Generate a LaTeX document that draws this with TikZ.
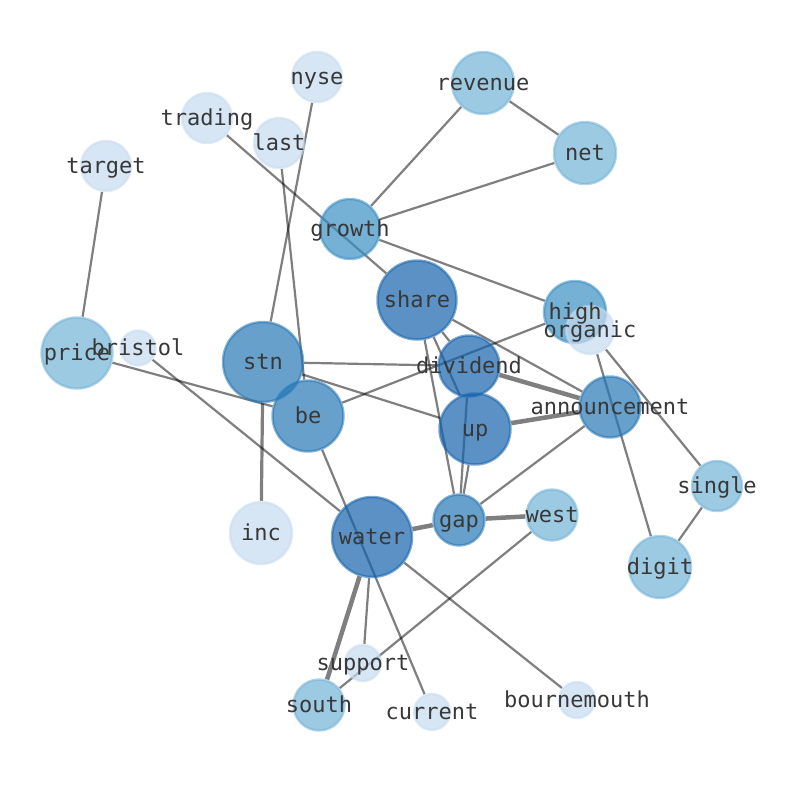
\documentclass[tikz,border=0pt]{standalone}
\usepackage{fontspec}
\setmonofont{DejaVu Sans Mono}
\usetikzlibrary{backgrounds}

\definecolor{b0}{HTML}{C6DBEF}
\definecolor{b1}{HTML}{74B3D7}
\definecolor{b2}{HTML}{3A8EC3}
\definecolor{b3}{HTML}{2677B5}
\definecolor{b4}{HTML}{1563AC}

\begin{document}
\begin{tikzpicture}[x=1pt,y=-1pt,
  word/.style={circle,inner sep=0pt,line width=2.5pt,fill opacity=0.7,draw opacity=0.55},
  w0/.style={word,fill=b0,draw=b0},
  w1/.style={word,fill=b1,draw=b1},
  w2/.style={word,fill=b2,draw=b2},
  w3/.style={word,fill=b3,draw=b3},
  w4/.style={word,fill=b4,draw=b4},
  lbl/.style={font=\ttfamily\fontsize{22}{22}\selectfont,text=black!78,inner sep=0pt,
    text height=15pt,text depth=0pt},
  link/.style={draw=black,draw opacity=0.5,line width=2.2pt},
  heavy/.style={link,line width=4.5pt}]

  \useasboundingbox (0,0) rectangle (794,790);

  \node[w0,minimum size=50pt] (nyse) at (317,77) {};
  \node[w1,minimum size=62pt] (revenue) at (483,83) {};
  \node[w0,minimum size=50pt] (trading) at (207,118) {};
  \node[w0,minimum size=50pt] (last) at (279,143) {};
  \node[w0,minimum size=50pt] (target) at (106,166) {};
  \node[w1,minimum size=62pt] (net) at (585,153) {};
  \node[w2,minimum size=60pt] (growth) at (350,229) {};
  \node[w4,minimum size=79pt] (share) at (417,300) {};
  \node[w2,minimum size=62pt] (high) at (575,312) {};
  \node[w0,minimum size=48pt] (organic) at (590,330) {};
  \node[w1,minimum size=71pt] (price) at (77,353) {};
  \node[w0,minimum size=35pt] (bristol) at (138,348) {};
  \node[w3,minimum size=80pt] (stn) at (263,362) {};
  \node[w4,minimum size=61pt] (dividend) at (469,366) {};
  \node[w3,minimum size=71pt] (be) at (308,416) {};
  \node[w3,minimum size=61pt] (announcement) at (610,407) {};
  \node[w4,minimum size=71pt] (up) at (475,429) {};
  \node[w1,minimum size=50pt] (single) at (717,486) {};
  \node[w0,minimum size=62pt] (inc) at (261,533) {};
  \node[w3,minimum size=51pt] (gap) at (459,520) {};
  \node[w1,minimum size=51pt] (west) at (552,515) {};
  \node[w4,minimum size=80pt] (water) at (372,537) {};
  \node[w1,minimum size=62pt] (digit) at (660,567) {};
  \node[w0,minimum size=36pt] (support) at (363,663) {};
  \node[w1,minimum size=51pt] (south) at (319,705) {};
  \node[w0,minimum size=36pt] (current) at (432,712) {};
  \node[w0,minimum size=36pt] (bournemouth) at (577,700) {};

  \begin{pgfonlayer}{background}
  \path[link]
    (nyse) edge (stn)
    (stn) edge[line width=3.2pt] (inc)
    (trading) edge (share)
    (last) edge (be)
    (target) edge (price)
    (revenue) edge (growth)
    (revenue) edge (net)
    (net) edge (growth)
    (growth) edge (high)
    (share) edge (dividend)
    (share) edge (up)
    (share) edge (gap)
    (share) edge (announcement)
    (be) edge (high)
    (price) edge (be)
    (bristol) edge (water)
    (water) edge (bournemouth)
    (stn) edge (dividend)
    (stn) edge (up)
    (dividend) edge[heavy] (announcement)
    (up) edge[heavy] (announcement)
    (dividend) edge (gap)
    (up) edge (gap)
    (announcement) edge (gap)
    (organic) edge (single)
    (organic) edge (digit)
    (single) edge (digit)
    (water) edge[heavy] (gap)
    (gap) edge[heavy] (west)
    (west) edge (south)
    (water) edge[heavy] (south)
    (water) edge (support)
    (be) edge (current)
    ;
  \end{pgfonlayer}

  \node[lbl] (t-nyse) at (nyse) {nyse};
  \node[lbl] (t-revenue) at (revenue) {revenue};
  \node[lbl] (t-trading) at (trading) {trading};
  \node[lbl] (t-last) at (last) {last};
  \node[lbl] (t-target) at (target) {target};
  \node[lbl] (t-net) at (net) {net};
  \node[lbl] (t-growth) at (growth) {growth};
  \node[lbl] (t-share) at (share) {share};
  \node[lbl] (t-high) at (high) {high};
  \node[lbl] (t-organic) at (organic) {organic};
  \node[lbl] (t-price) at (price) {price};
  \node[lbl] (t-bristol) at (bristol) {bristol};
  \node[lbl] (t-stn) at (stn) {stn};
  \node[lbl] (t-dividend) at (dividend) {dividend};
  \node[lbl] (t-be) at (be) {be};
  \node[lbl] (t-announcement) at (announcement) {announcement};
  \node[lbl] (t-up) at (up) {up};
  \node[lbl] (t-single) at (single) {single};
  \node[lbl] (t-inc) at (inc) {inc};
  \node[lbl] (t-gap) at (gap) {gap};
  \node[lbl] (t-west) at (west) {west};
  \node[lbl] (t-water) at (water) {water};
  \node[lbl] (t-digit) at (digit) {digit};
  \node[lbl] (t-support) at (support) {support};
  \node[lbl] (t-south) at (south) {south};
  \node[lbl] (t-current) at (current) {current};
  \node[lbl] (t-bournemouth) at (bournemouth) {bournemouth};
\end{tikzpicture}
\end{document}
